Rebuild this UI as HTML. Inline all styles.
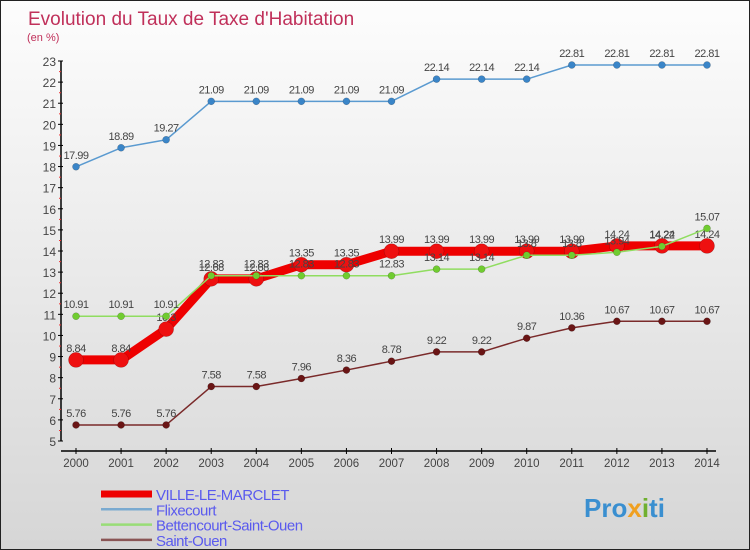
<!DOCTYPE html>
<html><head><meta charset="utf-8"><style>
body{margin:0;}
#c{width:750px;height:550px;position:relative;background:linear-gradient(#fdfdfd,#d6d6d6);box-sizing:border-box;border:1px solid #222;overflow:hidden;font-family:"Liberation Sans",sans-serif;}
svg text{font-family:"Liberation Sans",sans-serif;}
</style></head><body>
<div id="c">
<svg id="s" width="750" height="550">
<text x="27" y="24" font-size="19" fill="#c0305a">Evolution du Taux de Taxe d'Habitation</text>
<text x="26" y="40" font-size="11" fill="#c0305a">(en %)</text>
<g id="axes"></g><g id="series"></g><g id="legend"></g>
<text x="583" y="516" font-size="26" font-weight="bold" fill="#3a8fd0">Pro<tspan fill="#f0a020">x</tspan><tspan fill="#70b030">i</tspan>ti</text>
</svg>
</div>
<script>
const years=[2000,2001,2002,2003,2004,2005,2006,2007,2008,2009,2010,2011,2012,2013,2014];
const yTicks=[5,6,7,8,9,10,11,12,13,14,15,16,17,18,19,20,21,22,23];
const ville=[8.84,8.84,10.3,12.68,12.68,13.35,13.35,13.99,13.99,13.99,13.99,13.99,14.24,14.24,14.24];
const flixecourt=[17.99,18.89,19.27,21.09,21.09,21.09,21.09,21.09,22.14,22.14,22.14,22.81,22.81,22.81,22.81];
const bettencourt=[10.91,10.91,10.91,12.83,12.83,12.83,12.83,12.83,13.14,13.14,13.8,13.8,13.94,14.22,15.07];
const saintOuen=[5.76,5.76,5.76,7.58,7.58,7.96,8.36,8.78,9.22,9.22,9.87,10.36,10.67,10.67,10.67];
const NS="http://www.w3.org/2000/svg";
const xS=i=>75+i*(706-75)/(years.length-1);
const yS=v=>440-(v-5)*(380/18);
function mk(tag,attrs,parent,txt){const e=document.createElementNS(NS,tag);for(const k in attrs)e.setAttribute(k,attrs[k]);if(txt!==undefined)e.textContent=txt;parent.appendChild(e);return e;}
const ax=document.getElementById('axes');
let a=mk('line',{x1:60,y1:yS(23),x2:60,y2:440,stroke:'#000','stroke-width':1.5},ax);


a=mk('line',{x1:60,y1:450,x2:715,y2:450,stroke:'#000','stroke-width':1.5},ax);


yTicks.forEach(v=>{
 const y=yS(v);
 mk('line',{x1:57,y1:y,x2:62,y2:y,stroke:'#000'},ax);
 if(v<23) mk('line',{x1:58,y1:y-10.5,x2:60,y2:y-10.5,stroke:'#e33'},ax);
 const t=mk('text',{x:55,y:y+5,'font-size':12,'text-anchor':'end',fill:'#444'},ax,v);
 
 
});
years.forEach((yr,i)=>{
 const x=xS(i);
 mk('line',{x1:x,y1:447,x2:x,y2:453,stroke:'#000'},ax);
 const t=mk('text',{x:x,y:466,'font-size':11.5,'text-anchor':'middle',fill:'#444'},ax,yr);
 
 
});
const sg=document.getElementById('series');
function series(data,name,color,w,r,dot){
 const g=mk('g',{},sg);
 
 
 const l=mk('polyline',{points:data.map((v,i)=>xS(i)+','+yS(v)).join(' '),fill:'none',stroke:color,'stroke-width':w,'stroke-linejoin':'round'},g);
 
 
 data.forEach((v,i)=>{
  const c=mk('circle',{cx:xS(i),cy:yS(v),r:r,fill:dot,stroke:'rgba(0,0,0,0.3)','stroke-width':0.5},g);
  
  
  const t=mk('text',{x:xS(i),y:yS(v)-8,'font-size':11,'text-anchor':'middle',fill:'#444','letter-spacing':'-0.5'},g,v);
  
  
 });
}
series(saintOuen,'saint-ouen','#7a2a2a',1.5,3.5,'#6a1515');
series(flixecourt,'flixecourt','#5a9ad0',1.5,3.5,'#3a85c8');
series(ville,'ville-le-marclet','#ee0000',9,7.5,'#ee1010');
series(bettencourt,'bettencourt-saint-ouen','#90dd60',1.5,3.5,'#70cc30');
const lg=document.getElementById('legend');
[['VILLE-LE-MARCLET','#ee0000',7],['Flixecourt','#7aaad0',2.5],['Bettencourt-Saint-Ouen','#99dd77',2.5],['Saint-Ouen','#8a5555',2.5]].forEach((d,i)=>{
 const y=493+i*15.3;
 const g=mk('g',{},lg);
 
 
 mk('line',{x1:100,y1:y,x2:151,y2:y,stroke:d[1],'stroke-width':d[2]},g);
 mk('text',{x:155,y:y+6,'font-size':15,fill:'#5a5aee','letter-spacing':'-0.5'},g,d[0]);
});
</script>
</body></html>
